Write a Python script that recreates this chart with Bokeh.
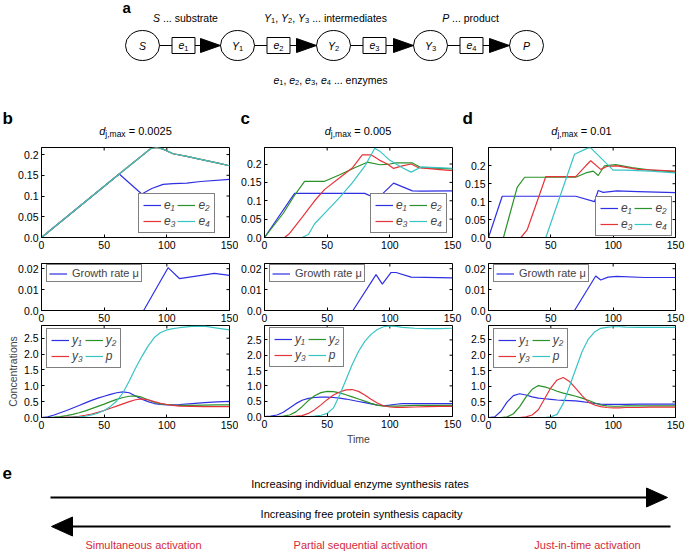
from bokeh.plotting import figure
from bokeh.layouts import column, row
from bokeh.models import (Range1d, Legend, LegendItem, FixedTicker,
                          CustomJSTickFormatter, PrintfTickFormatter)
from bokeh.core.properties import value
from bokeh.embed import file_html
from bokeh.resources import INLINE

FONT = "Liberation Sans"
C1, C2, C3, C4 = "#2f2fe4", "#2a922a", "#e6343a", "#38c4c4"
RED = "#d42a3c"
NB = "\u00a0"

# ---------------- data ----------------
x_ticks = [0, 50, 100, 150]
top_ticks = [0, 0.05, 0.1, 0.15, 0.2]
mid_ticks = [0, 0.01, 0.02]
bot_ticks = [0, 0.5, 1.0, 1.5, 2.0, 2.5]
titles = ["0.0025", "0.005", "0.01"]
panel_letters = ["b", "c", "d"]

# panel b enzymes
tb_e1 = [0, 62, 80, 88, 97, 105, 116, 127, 150]
b_e1 = [0, 0.153, 0.105, 0.118, 0.128, 0.130, 0.131, 0.135, 0.140]
tb_e = [0, 62, 87, 92, 97, 105, 115, 126, 140, 150]
b_e2 = [0, 0.153, 0.214, 0.217, 0.213, 0.202, 0.196, 0.189, 0.180, 0.173]
b_e3 = [0, 0.153, 0.214, 0.217, 0.213, 0.202, 0.196, 0.189, 0.180, 0.173]
b_e4 = [0, 0.153, 0.214, 0.217, 0.213, 0.202, 0.196, 0.189, 0.180, 0.173]

# panel c enzymes
tc_e1 = [0, 24, 80, 90, 103, 118, 125, 150]
c_e1 = [0, 0.12, 0.12, 0.105, 0.148, 0.127, 0.126, 0.127]
tc_e2 = [0, 15, 24, 32, 48, 60, 72, 82, 92, 100, 105, 118, 125, 150]
c_e2 = [0, 0.066, 0.115, 0.153, 0.153, 0.171, 0.19, 0.205, 0.198, 0.2, 0.203, 0.203, 0.19, 0.187]
tc_e3 = [0, 16, 20, 30, 40, 48, 60, 70, 78, 85, 92, 98, 103, 110, 117, 123, 140, 150]
c_e3 = [0, 0, 0.011, 0.055, 0.1, 0.131, 0.1625, 0.189, 0.225, 0.225, 0.21, 0.2, 0.188, 0.195, 0.2, 0.19, 0.185, 0.182]
tc_e4 = [0, 30, 35, 40, 50, 60, 70, 80, 88, 92, 100, 110, 117, 125, 150]
c_e4 = [0, 0, 0.008, 0.0375, 0.073, 0.109, 0.149, 0.194, 0.243, 0.235, 0.21, 0.19, 0.178, 0.192, 0.188]

# panel d enzymes
td_e1 = [0, 11, 70, 85, 88, 92, 103, 120, 150]
d_e1 = [0, 0.115, 0.115, 0.1, 0.131, 0.126, 0.13, 0.128, 0.125]
td_e2 = [0, 12, 23, 29, 70, 78, 84, 88, 93, 102, 115, 130, 150]
d_e2 = [0, 0, 0.14, 0.168, 0.168, 0.18, 0.185, 0.173, 0.2, 0.203, 0.195, 0.188, 0.183]
td_e3 = [0, 26, 31, 46, 70, 78, 82, 90, 95, 103, 120, 150]
d_e3 = [0, 0, 0.021, 0.17, 0.17, 0.2, 0.214, 0.19, 0.198, 0.2, 0.19, 0.185]
td_e4 = [0, 46, 69, 80, 82, 100, 110, 130, 150]
d_e4 = [0, 0, 0.232, 0.25, 0.25, 0.188, 0.188, 0.185, 0.18]

# growth rates
tb_mu = [0, 81.5, 101, 110, 138, 150]
b_mu = [0, 0, 0.0205, 0.0153, 0.0178, 0.0168]
tc_mu = [0, 70.6, 89, 94, 101, 105, 117, 150]
c_mu = [0, 0, 0.0172, 0.0126, 0.0182, 0.0182, 0.016, 0.0156]
td_mu = [0, 69, 86, 90, 96, 103, 125, 150]
d_mu = [0, 0, 0.0165, 0.0146, 0.016, 0.0163, 0.0158, 0.0158]

# concentrations
t_conc = [0, 5, 10, 15, 20, 25, 30, 35, 40, 45, 50, 55, 60, 65, 70, 75, 80, 85,
          90, 95, 100, 105, 110, 120, 130, 140, 150]
b_y1 = [0, 0.02, 0.08, 0.15, 0.22, 0.30, 0.38, 0.46, 0.54, 0.61, 0.67, 0.73, 0.78, 0.81,
        0.78, 0.68, 0.58, 0.50, 0.44, 0.41, 0.40, 0.40, 0.41, 0.44, 0.47, 0.49, 0.51]
b_y2 = [0, 0, 0.01, 0.03, 0.06, 0.1, 0.15, 0.21, 0.28, 0.35, 0.42, 0.5, 0.57, 0.63, 0.67,
        0.68, 0.64, 0.56, 0.48, 0.43, 0.41, 0.39, 0.38, 0.38, 0.39, 0.4, 0.4]
b_y3 = [0, 0, 0, 0, 0.01, 0.02, 0.04, 0.07, 0.11, 0.16, 0.22, 0.29, 0.36, 0.43, 0.5, 0.56,
        0.59, 0.56, 0.5, 0.45, 0.41, 0.38, 0.36, 0.35, 0.34, 0.34, 0.34]
b_p = [0, 0, 0, 0, 0, 0.01, 0.02, 0.04, 0.08, 0.14, 0.22, 0.35, 0.52, 0.78, 1.15, 1.55,
       1.92, 2.25, 2.52, 2.68, 2.76, 2.8, 2.83, 2.87, 2.88, 2.82, 2.76]
c_y1 = [0, 0.01, 0.05, 0.14, 0.28, 0.42, 0.53, 0.59, 0.62, 0.63, 0.63, 0.62, 0.6, 0.57,
        0.53, 0.49, 0.45, 0.41, 0.37, 0.35, 0.37, 0.4, 0.42, 0.42, 0.42, 0.42, 0.42]
c_y2 = [0, 0, 0, 0.01, 0.05, 0.15, 0.32, 0.52, 0.68, 0.78, 0.82, 0.81, 0.77, 0.71, 0.64,
        0.57, 0.5, 0.43, 0.37, 0.34, 0.34, 0.34, 0.35, 0.36, 0.36, 0.36, 0.36]
c_y3 = [0, 0, 0, 0, 0, 0.01, 0.03, 0.1, 0.22, 0.38, 0.55, 0.7, 0.8, 0.87, 0.88, 0.82, 0.7,
        0.56, 0.44, 0.35, 0.31, 0.3, 0.3, 0.31, 0.32, 0.33, 0.33]
c_p = [0, 0, 0, 0, 0, 0, 0, 0, 0.01, 0.04, 0.1, 0.28, 0.7, 1.2, 1.7, 2.12, 2.45, 2.68,
       2.84, 2.93, 2.96, 2.94, 2.91, 2.88, 2.87, 2.87, 2.88]
d_y1 = [0, 0.02, 0.2, 0.5, 0.7, 0.76, 0.72, 0.66, 0.62, 0.6, 0.58, 0.56, 0.55, 0.54, 0.53,
        0.51, 0.48, 0.45, 0.43, 0.42, 0.42, 0.42, 0.42, 0.43, 0.43, 0.43, 0.43]
d_y2 = [0, 0, 0, 0.02, 0.12, 0.35, 0.65, 0.9, 1.02, 0.98, 0.92, 0.84, 0.78, 0.73, 0.68,
        0.62, 0.55, 0.47, 0.4, 0.37, 0.36, 0.36, 0.37, 0.37, 0.37, 0.37, 0.37]
d_y3 = [0, 0, 0, 0, 0, 0, 0.02, 0.08, 0.25, 0.6, 0.95, 1.2, 1.28, 1.15, 0.93, 0.7, 0.5,
        0.4, 0.35, 0.32, 0.31, 0.31, 0.32, 0.32, 0.33, 0.33, 0.33]
d_p = [0, 0, 0, 0, 0, 0, 0, 0, 0, 0, 0.02, 0.1, 0.45, 1.0, 1.55, 2.1, 2.5, 2.73, 2.85,
       2.88, 2.9, 2.9, 2.89, 2.88, 2.88, 2.88, 2.88]

top_ymax = [0.217, 0.245, 0.251]
mid_ymax = [0.0225, 0.0225, 0.0225]
bot_ymax = [2.9, 2.97, 2.94]

# diagram
node_labels = ["S", "Y", "Y", "Y", "P"]
node_subs = ["", "1", "2", "3", ""]
node_x = [142, 237, 333, 430, 526]
box_x = [183, 278, 374, 471]
box_subs = ["1", "2", "3", "4"]

# panel e
red_labels = ["Simultaneous activation", "Partial sequential activation", "Just-in-time activation"]
red_x = [143, 360, 587]

# ---------------- helpers ----------------
AW = {' ': 278, NB: 278, ',': 278, '.': 278, '=': 584, '-': 333, 'a': 556, 'b': 556,
      'c': 500, 'd': 556, 'e': 556, 'f': 278, 'g': 556, 'h': 556, 'i': 222, 'j': 222,
      'k': 500, 'l': 222, 'm': 833, 'n': 556, 'o': 556, 'p': 556, 'q': 556, 'r': 333,
      's': 500, 't': 278, 'u': 556, 'v': 500, 'w': 722, 'x': 500, 'y': 500, 'z': 500,
      'S': 667, 'Y': 667, 'P': 667, 'I': 278, 'J': 500}


def tw(s, size):
    return sum(AW.get(ch, 556) for ch in s) * size / 1000.0


def rich(p, x, y, pieces, align="center", color="black"):
    """Draw a run of text pieces; y is the vertical middle of the main text."""
    pieces = [(t.replace(" ", NB), sz, st, dy) for t, sz, st, dy in pieces]
    total = sum(tw(t, sz) for t, sz, st, dy in pieces)
    x0 = x - total / 2 if align == "center" else (x if align == "left" else x - total)
    for t, sz, st, dy in pieces:
        p.text(x=[x0], y=[y + dy], text=[t], text_font=value(FONT),
               text_font_size=f"{sz}px", text_font_style=st, text_align="left",
               text_baseline="middle", text_color=color)
        x0 += tw(t, sz)


def canvas(w, h, x0, x1, ytop, ybot):
    p = figure(width=w, height=h, x_range=Range1d(x0, x1), y_range=Range1d(ybot, ytop),
               min_border=0, output_backend="svg", toolbar_location=None,
               x_axis_location=None, y_axis_location=None)
    p.grid.visible = False
    p.outline_line_color = None
    return p


def mkplot(w, h, bl, br, bt, bb, ymax, yticks, fmt):
    p = figure(width=w, height=h, x_range=Range1d(0, 150), y_range=Range1d(0, ymax),
               output_backend="svg", toolbar_location=None, min_border_left=bl,
               min_border_right=br, min_border_top=bt, min_border_bottom=bb)
    p.grid.visible = False
    p.outline_line_color = "black"
    p.outline_line_alpha = 1
    for ax in (p.xaxis[0], p.yaxis[0]):
        ax.major_tick_in = 3
        ax.major_tick_out = 0
        ax.minor_tick_line_color = None
        ax.major_label_text_font = FONT
        ax.major_label_text_font_size = "10.5px"
        ax.major_label_text_color = "black"
        ax.major_label_standoff = 3
        ax.axis_line_color = "black"
        ax.major_tick_line_color = "black"
        ax.axis_label_text_font = FONT
        ax.axis_label_text_font_size = "10.5px"
        ax.axis_label_text_font_style = "normal"
        ax.axis_label_standoff = 2
    p.xaxis[0].ticker = FixedTicker(ticks=x_ticks)
    p.yaxis[0].ticker = FixedTicker(ticks=yticks)
    p.yaxis[0].formatter = fmt
    # mirrored inward ticks on the top and right edges (box style)
    fw, fh = w - bl - br, h - bt - bb
    dy = 3.0 * ymax / fh
    dx = 3.0 * 150 / fw
    xt = [t for t in x_ticks if 0 < t < 150]
    p.segment(x0=xt, y0=[ymax] * len(xt), x1=xt, y1=[ymax - dy] * len(xt),
              line_color="black", line_width=1)
    yt = [t for t in yticks if 0 < t < ymax]
    p.segment(x0=[150] * len(yt), y0=yt, x1=[150 - dx] * len(yt), y1=yt,
              line_color="black", line_width=1)
    return p


def add_legend(p, labels, rends, loc, italic=True, ncols=2, size="12px", lh=12, pad=4,
               gw=18, stand=3):
    lg = Legend(items=[LegendItem(label=l, renderers=[r]) for l, r in zip(labels, rends)],
                location=loc, orientation="horizontal", ncols=ncols)
    lg.label_text_font = FONT
    lg.label_text_font_size = size
    lg.label_text_font_style = "italic" if italic else "normal"
    lg.label_standoff = stand
    lg.label_width = 8
    lg.glyph_width = gw
    lg.glyph_height = lh
    lg.label_height = lh
    lg.spacing = 2
    lg.padding = pad
    lg.margin = 0
    lg.border_line_color = "black"
    lg.border_line_width = 1
    lg.background_fill_alpha = 1
    p.add_layout(lg)


small_fmt = CustomJSTickFormatter(code="return tick == 0 ? '0.0' : String(Math.round(tick*10000)/10000);")

# ---------------- top canvas: panel a + headers ----------------
top = canvas(685, 145, 0, 685, 0, 145)
rich(top, 122, 7, [("a", 15, "bold", 0)], align="left")
yc = 45
rx, ry = 17, 15
top.ellipse(x=node_x, y=[yc] * 5, width=2 * rx, height=2 * ry, fill_color="white",
            line_color="black", line_width=1)
top.rect(x=box_x, y=[yc] * 4, width=23, height=16, fill_color="white",
         line_color="black", line_width=1)
seg_x0, seg_x1, hx, hy = [], [], [], []
for i, bx in enumerate(box_x):
    seg_x0 += [node_x[i] + rx, bx + 11.5]
    tip = node_x[i + 1] - rx
    seg_x1 += [bx - 11.5, tip - 18]
    hx.append([tip - 20, tip, tip - 20])
    hy.append([yc - 7, yc, yc + 7])
top.segment(x0=seg_x0, y0=[yc] * len(seg_x0), x1=seg_x1, y1=[yc] * len(seg_x1),
            line_color="black", line_width=1.2)
top.patches(xs=hx, ys=hy, fill_color="black", line_color="black")
for lab, sub, nx in zip(node_labels, node_subs, node_x):
    pcs = [(lab, 10.5, "italic", 0)]
    if sub:
        pcs.append((sub, 7.5, "normal", 3))
    rich(top, nx, yc, pcs)
for sub, bx in zip(box_subs, box_x):
    rich(top, bx, yc - 0.5, [("e", 10.5, "italic", 0), (sub, 7.5, "normal", 3)])
FS = 10.5
SS = 7.5
rich(top, 185, 17, [("S", FS, "italic", 0), (" ... substrate", FS, "normal", 0)])
rich(top, 325, 17, [("Y", FS, "italic", 0), ("1", SS, "normal", 3), (", ", FS, "normal", 0),
                    ("Y", FS, "italic", 0), ("2", SS, "normal", 3), (", ", FS, "normal", 0),
                    ("Y", FS, "italic", 0), ("3", SS, "normal", 3),
                    (" ... intermediates", FS, "normal", 0)])
rich(top, 470, 17, [("P", FS, "italic", 0), (" ... product", FS, "normal", 0)])
rich(top, 330, 79, [("e", FS, "italic", 0), ("1", SS, "normal", 3), (", ", FS, "normal", 0),
                    ("e", FS, "italic", 0), ("2", SS, "normal", 3), (", ", FS, "normal", 0),
                    ("e", FS, "italic", 0), ("3", SS, "normal", 3), (", ", FS, "normal", 0),
                    ("e", FS, "italic", 0), ("4", SS, "normal", 3),
                    (" ... enzymes", FS, "normal", 0)])
letter_x = [2, 240, 462]
title_cx = [135, 357.5, 581]
for L, lx, tcx, tt in zip(panel_letters, letter_x, title_cx, titles):
    rich(top, lx, 118, [(L, 17, "bold", 0)], align="left")
    rich(top, tcx, 130, [("d", 11, "italic", 0), ("j,max", 8.5, "normal", 3.5),
                         (" = " + tt, 11, "normal", 0)])

# ---------------- plot columns ----------------
col_w = [238, 224, 223]
bl = [41, 25, 25]
br = [9, 10, 10]
frame_w = [col_w[k] - bl[k] - br[k] for k in range(3)]
e_sets = [
    [(tb_e1, b_e1), (tb_e, b_e2), (tb_e, b_e3), (tb_e, b_e4)],
    [(tc_e1, c_e1), (tc_e2, c_e2), (tc_e3, c_e3), (tc_e4, c_e4)],
    [(td_e1, d_e1), (td_e2, d_e2), (td_e3, d_e3), (td_e4, d_e4)],
]
e_leg_gap = [(11, 4), (3, 4), (1, 1)]
mu_sets = [(tb_mu, b_mu), (tc_mu, c_mu), (td_mu, d_mu)]
y_sets = [(b_y1, b_y2, b_y3, b_p), (c_y1, c_y2, c_y3, c_p), (d_y1, d_y2, d_y3, d_p)]
cols = []
for k in range(3):
    w = col_w[k]
    pt = mkplot(w, 108, bl[k], br[k], 2, 16, top_ymax[k], top_ticks, small_fmt)
    rends = []
    for (tt, vv), c in zip(e_sets[k], [C1, C2, C3, C4]):
        rends.append(pt.line(tt, vv, line_color=c, line_width=1.2))
    gx, gy = e_leg_gap[k]
    add_legend(pt, ["e\u2081", "e\u2082", "e\u2083", "e\u2084"], rends,
               (frame_w[k] - gx - 80, gy))
    pm = mkplot(w, 72, bl[k], br[k], 10, 15, mid_ymax[k], mid_ticks, small_fmt)
    r = pm.line(mu_sets[k][0], mu_sets[k][1], line_color=C1, line_width=1.2)
    add_legend(pm, ["Growth rate \u03bc"], [r], (5, 28), italic=False, ncols=1,
               size="11px", lh=11, pad=2, gw=18, stand=5)
    pb = mkplot(w, 122, bl[k], br[k], 0, 30, bot_ymax[k], bot_ticks,
                PrintfTickFormatter(format="%.1f"))
    rends = []
    for vv, c in zip(y_sets[k], [C1, C2, C3, C4]):
        rends.append(pb.line(t_conc, vv, line_color=c, line_width=1.2))
    add_legend(pb, ["y\u2081", "y\u2082", "y\u2083", "p"], rends, (5, 49))
    if k == 0:
        pb.yaxis[0].axis_label = "Concentrations"
    if k == 1:
        pb.xaxis[0].axis_label = "Time"
    cols.append(column(pt, pm, pb))

# ---------------- panel e ----------------
pe = canvas(685, 104, 0, 685, 447, 551)
rich(pe, 2, 472, [("e", 17, "bold", 0)], align="left")
rich(pe, 359.5, 483, [("Increasing individual enzyme synthesis rates", 11, "normal", 0)])
rich(pe, 361, 513, [("Increasing free protein synthesis capacity", 11, "normal", 0)])
a1_x0, a1_tip, a1_y = 50, 667, 497
a2_x0, a2_tip, a2_y = 670, 51, 526
pe.segment(x0=[a1_x0, a2_x0], y0=[a1_y, a2_y], x1=[a1_tip - 18, a2_tip + 18], y1=[a1_y, a2_y],
           line_color="black", line_width=2.2)
pe.patches(xs=[[a1_tip - 21, a1_tip, a1_tip - 21], [a2_tip + 21, a2_tip, a2_tip + 21]],
           ys=[[a1_y - 9.5, a1_y, a1_y + 9.5], [a2_y - 9.5, a2_y, a2_y + 9.5]],
           fill_color="black", line_color="black")
for lab, lx in zip(red_labels, red_x):
    rich(pe, lx, 544, [(lab, 11, "normal", 0)], color=RED)

layout = column(top, row(*cols), pe)
open("out.html", "w").write(file_html(layout, INLINE))
